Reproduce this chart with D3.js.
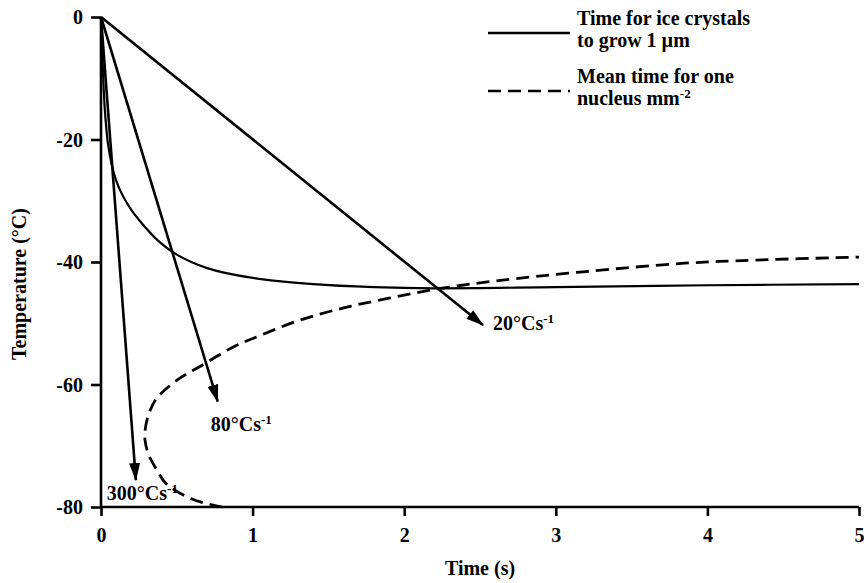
<!DOCTYPE html>
<html>
<head>
<meta charset="utf-8">
<script src="https://cdn.jsdelivr.net/npm/d3@7"></script>
<style>
    body { margin: 0; background: #fff; }
</style>
</head>
<body>
<div id="chart"></div>
<script>
// time (s) / temperature (°C)
const growTime = [0, 0.01, 0.025, 0.045, 0.07, 0.1, 0.14, 0.2, 0.28, 0.38, 0.5, 0.7, 1.0, 1.4, 1.8, 2.2, 3.0, 4.0, 5.0];
const growTemp = [0, -7, -15, -20.5, -24, -26.7, -29, -31.5, -34, -36.6, -38.8, -41, -42.6, -43.6, -44.1, -44.3, -44.1, -43.8, -43.6];

const nucTime = [0.8, 0.6, 0.43, 0.37, 0.315, 0.29, 0.295, 0.32, 0.36, 0.43, 0.53, 0.65, 0.87, 1.05, 1.31, 1.6, 1.9, 2.22, 2.6, 3.18, 3.85, 4.3, 5.0];
const nucTemp = [-80, -78.7, -76.2, -74, -71.5, -69, -66.8, -64.5, -62.5, -60.7, -58.8, -57.1, -53.9, -52, -49.5, -47.5, -45.9, -44.4, -43.1, -41.6, -40.2, -39.7, -39.2];

const rateLabels = ["20°Cs", "80°Cs", "300°Cs"];
const rateEndTime = [2.52, 0.77, 0.23];
const rateEndTemp = [-50.3, -62.8, -75.6];

const xTicks = [0, 1, 2, 3, 4, 5];
const yTicks = [0, -20, -40, -60, -80];
const legendLabels = [["Time for ice crystals", "to grow 1 µm"], ["Mean time for one", "nucleus mm"]];

(function () {
    const w = 864, h = 583;
    const FONT = "'Liberation Serif', 'DejaVu Serif', Times, serif";
    const svg = d3.select("#chart").append("svg")
        .attr("width", w).attr("height", h)
        .style("font-family", FONT).style("font-weight", "bold");

    const x = d3.scaleLinear().domain([0, 5]).range([101, 859]);
    const y = d3.scaleLinear().domain([-80, 0]).range([507, 17]);

    svg.append("defs").append("marker")
        .attr("id", "head")
        .attr("markerUnits", "userSpaceOnUse")
        .attr("viewBox", "0 0 18 11")
        .attr("markerWidth", 18).attr("markerHeight", 11)
        .attr("refX", 17).attr("refY", 5.5)
        .attr("orient", "auto")
        .append("path").attr("d", "M0,0 L18,5.5 L0,11 Z").attr("fill", "#000");

    // axes
    const xAxis = svg.append("g").attr("transform", `translate(0,${y(-80)})`)
        .call(d3.axisBottom(x).tickValues(xTicks).tickSize(9).tickPadding(12).tickFormat(d => String(d)));
    const yAxis = svg.append("g").attr("transform", `translate(${x(0)},0)`)
        .call(d3.axisLeft(y).tickValues(yTicks).tickSize(10).tickPadding(8).tickFormat(d => String(d)));
    [xAxis, yAxis].forEach(g => {
        g.attr("font-family", null).attr("font-size", null);
        g.select(".domain").attr("stroke", "#000").attr("stroke-width", 2.6);
        g.selectAll(".tick line").attr("stroke", "#000").attr("stroke-width", 2.6);
        g.selectAll(".tick text").attr("fill", "#000")
            .style("font-family", FONT).style("font-size", "20px");
    });
    xAxis.select(".domain").attr("d", `M${x(0)},0H${x(5)}`);
    yAxis.select(".domain").attr("d", `M0,${y(0)}V${y(-80)}`);
    yAxis.selectAll(".tick text").attr("dy", "0.34em");

    const label = (sel) => sel.style("font-family", FONT).style("font-size", "20px").attr("fill", "#000");

    svg.append("text").attr("x", (x(0) + x(5)) / 2).attr("y", 575)
        .attr("text-anchor", "middle").call(label).text("Time (s)");
    svg.append("text").attr("transform", "translate(26,284) rotate(-90)")
        .attr("text-anchor", "middle").call(label).text("Temperature (°C)");

    const line = d3.line().x(d => x(d[0])).y(d => y(d[1])).curve(d3.curveCatmullRom.alpha(0.5));

    svg.append("path").datum(d3.zip(growTime, growTemp))
        .attr("d", line).attr("fill", "none").attr("stroke", "#000").attr("stroke-width", 2.2);

    svg.append("path").datum(d3.zip(nucTime, nucTemp))
        .attr("d", line).attr("fill", "none").attr("stroke", "#000")
        .attr("stroke-width", 2.8).attr("stroke-dasharray", "13,7");

    // cooling-rate arrows
    const labelOffset = [[10, 5], [-7, 29], [-29, 20]];
    rateLabels.forEach((lab, i) => {
        svg.append("line")
            .attr("x1", x(0)).attr("y1", y(0))
            .attr("x2", x(rateEndTime[i])).attr("y2", y(rateEndTemp[i]))
            .attr("stroke", "#000").attr("stroke-width", 2.6)
            .attr("marker-end", "url(#head)");
        const t = svg.append("text")
            .attr("x", x(rateEndTime[i]) + labelOffset[i][0])
            .attr("y", y(rateEndTemp[i]) + labelOffset[i][1])
            .call(label);
        t.append("tspan").text(lab);
        t.append("tspan").style("font-size", "13px").attr("dy", -7).text("-1");
    });

    // legend
    const lg = svg.append("g");
    legendLabels.forEach((rows, i) => {
        const ly = 33 + i * 58;
        lg.append("line").attr("x1", 488).attr("x2", 570).attr("y1", ly).attr("y2", ly)
            .attr("stroke", "#000").attr("stroke-width", 2.4)
            .attr("stroke-dasharray", i ? "13,7" : null);
        rows.forEach((r, j) => {
            const t = lg.append("text").attr("x", 577).attr("y", ly - 8 + j * 22).call(label);
            t.append("tspan").text(r);
            if (i === 1 && j === 1) t.append("tspan").style("font-size", "13px").attr("dy", -7).text("-2");
        });
    });
})();
</script>
</body>
</html>
